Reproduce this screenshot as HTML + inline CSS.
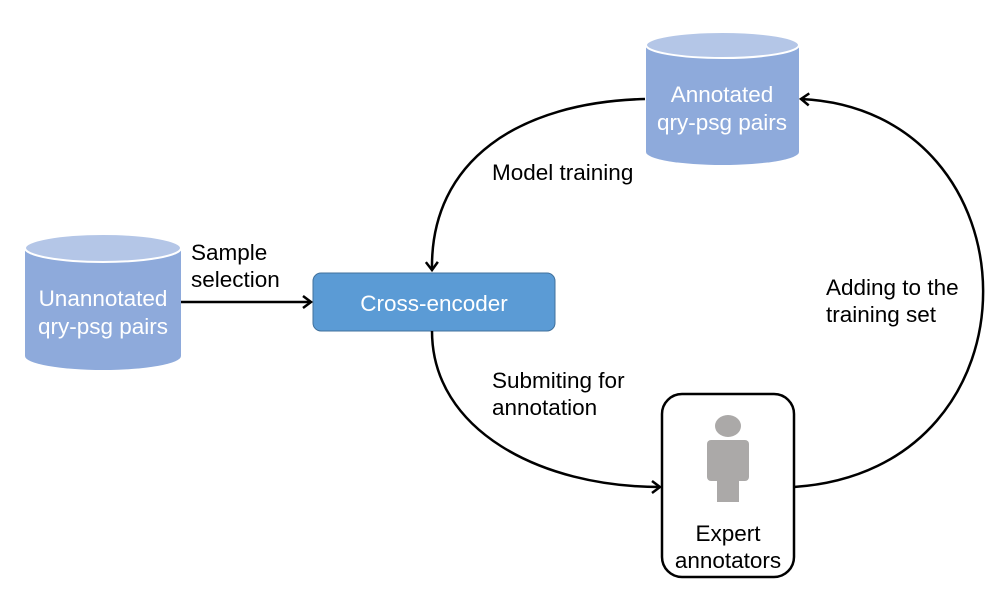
<!DOCTYPE html>
<html><head><style>body{margin:0;background:#fff}svg{display:block}text{font-family:"Liberation Sans",sans-serif;font-size:22.5px}</style></head><body>
<svg width="1004" height="600" viewBox="0 0 1004 600">
<defs><marker id="a" markerWidth="14" markerHeight="14" refX="11" refY="7" orient="auto" markerUnits="userSpaceOnUse"><path d="M3,1 L11,7 L3,13" fill="none" stroke="#000" stroke-width="2.5"/></marker></defs>
<!-- Unannotated cylinder -->
<path d="M25,248 L25,356 A78,14 0 0 0 181,356 L181,248 Z" fill="#8eaadb"/>
<ellipse cx="103" cy="248" rx="78" ry="14" fill="#b4c6e7" stroke="#fff" stroke-width="2"/>
<text x="103" y="306" fill="#fff" text-anchor="middle">Unannotated</text>
<text x="103" y="334" fill="#fff" text-anchor="middle">qry-psg pairs</text>
<!-- Annotated cylinder -->
<path d="M646,45 L646,152 A76.5,13 0 0 0 799,152 L799,45 Z" fill="#8eaadb"/>
<ellipse cx="722.5" cy="45" rx="76.5" ry="13" fill="#b4c6e7" stroke="#fff" stroke-width="2"/>
<text x="722" y="102" fill="#fff" text-anchor="middle">Annotated</text>
<text x="722" y="130" fill="#fff" text-anchor="middle">qry-psg pairs</text>
<!-- Cross-encoder -->
<rect x="313" y="273" width="242" height="58" rx="8" fill="#5b9bd5" stroke="#41719c" stroke-width="1"/>
<text x="434" y="311" fill="#fff" text-anchor="middle">Cross-encoder</text>
<!-- Expert -->
<rect x="662" y="394" width="132" height="183" rx="20" fill="#fff" stroke="#000" stroke-width="2.5"/>
<ellipse cx="728" cy="426" rx="13" ry="11" fill="#aba9a8"/>
<rect x="707" y="440" width="42" height="41" rx="4" fill="#aba9a8"/>
<rect x="717" y="480" width="22" height="22" fill="#aba9a8"/>
<text x="728" y="541" text-anchor="middle">Expert</text>
<text x="728" y="568" text-anchor="middle">annotators</text>
<!-- arrows -->
<g fill="none" stroke="#000" stroke-width="2.5">
<path d="M181,302 L311,302" marker-end="url(#a)"/>
<path d="M645,99 C520,102 430,160 432,270" marker-end="url(#a)"/>
<path d="M432,331 C432,430 540,487 660,487" marker-end="url(#a)"/>
<path d="M794,487 C1050,470 1040,110 801,99" marker-end="url(#a)"/>
</g>
<text x="191" y="260">Sample</text>
<text x="191" y="287">selection</text>
<text x="492" y="180">Model training</text>
<text x="492" y="388">Submiting for</text>
<text x="492" y="415">annotation</text>
<text x="826" y="295">Adding to the</text>
<text x="826" y="322">training set</text>
</svg>
</body></html>
